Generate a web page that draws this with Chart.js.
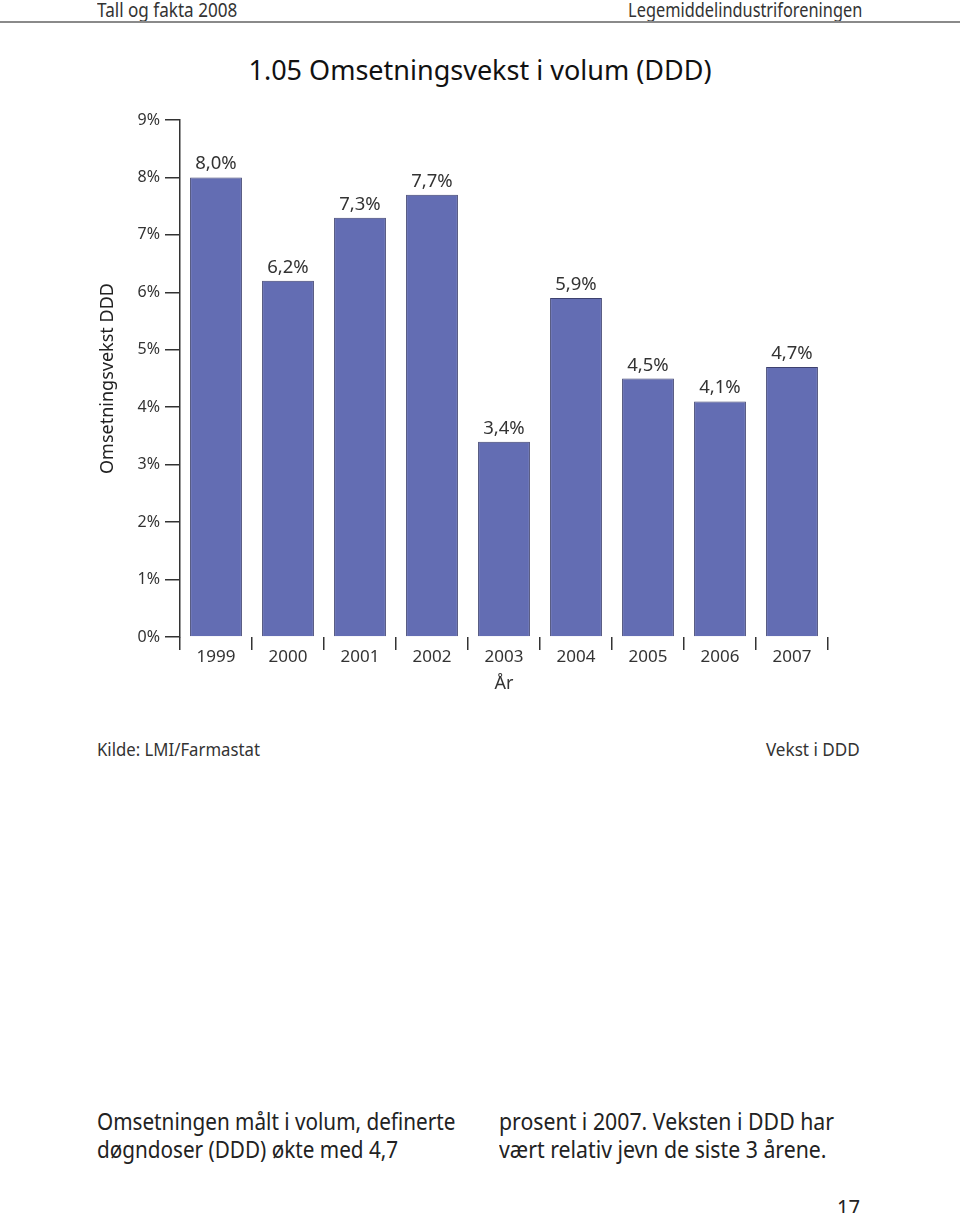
<!DOCTYPE html>
<html>
<head>
<meta charset="utf-8">
<script src="https://cdn.jsdelivr.net/npm/chart.js@4.4.1/dist/chart.umd.min.js"></script>
<style>
  body { margin: 0; background: #fff; width: 960px; height: 1213px; position: relative; overflow: hidden; font-family: "Noto Sans", sans-serif; color: #222; }
  .abs { position: absolute; white-space: nowrap; }
  .cl { transform-origin: left top; }
  .cr { transform-origin: right top; }
  #hdrline { position: absolute; left: 0; top: 21px; width: 960px; height: 2px; background: #8a8a8a; }
  #wrap { position: absolute; left: 0; top: 0; width: 960px; height: 720px; }
</style>
</head>
<body>
<div class="abs cl" style="left:97px; top:-3px; font-size:19px; color:#333; transform:scaleX(0.9);">Tall og fakta 2008</div>
<div class="abs cr" style="right:98px; top:-3px; font-size:19px; color:#333; transform:scaleX(0.86);">Legemiddelindustriforeningen</div>
<div id="hdrline"></div>
<div class="abs" style="left:0; width:960px; text-align:center; top:51px; font-size:27px; color:#111;">1.05 Omsetningsvekst i volum (DDD)</div>

<div id="wrap"><canvas id="chart"></canvas></div>

<div class="abs cl" style="left:97px; top:737px; font-size:18px; color:#333; transform:scaleX(0.93);">Kilde: LMI/Farmastat</div>
<div class="abs cr" style="right:100px; top:737px; font-size:18px; color:#333; transform:scaleX(0.95);">Vekst i DDD</div>

<div class="abs cl" style="left:97px; top:1107px; font-size:23px; line-height:28px; color:#222; transform:scaleX(0.9);">Omsetningen målt i volum, definerte<br>døgndoser (DDD) økte med 4,7</div>
<div class="abs cl" style="left:499px; top:1107px; font-size:23px; line-height:28px; color:#222; transform:scaleX(0.925);">prosent i 2007. Veksten i DDD har<br>vært relativ jevn de siste 3 årene.</div>
<div class="abs cr" style="right:100px; top:1192px; font-size:22px; color:#222; transform:scaleX(0.92);">17</div>

<script>
const years = ['1999', '2000', '2001', '2002', '2003', '2004', '2005', '2006', '2007'];
const growth = [8.0, 6.2, 7.3, 7.7, 3.4, 5.9, 4.5, 4.1, 4.7];
const yTicks = [0, 1, 2, 3, 4, 5, 6, 7, 8, 9];

// labels like "8,0%" above each bar
const barLabels = {
  id: 'barLabels',
  afterDatasetsDraw(chart) {
    const ctx = chart.ctx;
    const meta = chart.getDatasetMeta(0);
    ctx.save();
    ctx.font = '18.5px "Noto Sans"';
    ctx.fillStyle = '#333';
    ctx.textAlign = 'center';
    ctx.textBaseline = 'alphabetic';
    meta.data.forEach((bar, i) => {
      ctx.fillText(growth[i].toFixed(1).replace('.', ',') + '%', bar.x, bar.y - 8);
    });
    ctx.restore();
  }
};

new Chart(document.getElementById('chart'), {
  type: 'bar',
  data: {
    labels: years,
    datasets: [{
      label: 'Vekst i DDD',
      data: growth,
      backgroundColor: '#636db3',
      borderColor: '#3d416f',
      borderWidth: 1,
      barPercentage: 0.72,
      categoryPercentage: 1
    }]
  },
  options: {
    responsive: true,
    maintainAspectRatio: false,
    animation: false,
    layout: { padding: { left: 97, right: 132, top: 120, bottom: 23 } },
    plugins: { legend: { display: false }, tooltip: { enabled: false } },
    scales: {
      x: {
        grid: { offset: true, drawOnChartArea: false, color: '#333', lineWidth: 1.5, tickLength: 13 },
        border: { display: false },
        ticks: { color: '#333', font: { family: 'Noto Sans', size: 17 }, padding: -3 },
        title: { display: true, text: 'År', color: '#333', font: { family: 'Noto Sans', size: 18 }, padding: { top: 0, bottom: 2 } },
        afterFit(scale) { scale.height = 60; }
      },
      y: {
        min: 0,
        max: 9,
        afterBuildTicks(scale) { scale.ticks = yTicks.map(v => ({ value: v })); },
        grid: { drawOnChartArea: false, color: '#333', lineWidth: 1.5, tickLength: 15 },
        border: { display: true, color: '#333', width: 1.5 },
        ticks: { color: '#333', font: { family: 'Noto Sans', size: 16 }, padding: 5, callback: v => v + '%' },
        title: { display: true, text: 'Omsetningsvekst DDD', color: '#222', font: { family: 'Noto Sans', size: 18 }, padding: { top: 0, bottom: 0 } },
        afterFit(scale) { scale.width = 83; }
      }
    }
  },
  plugins: [barLabels]
});
</script>
</body>
</html>
